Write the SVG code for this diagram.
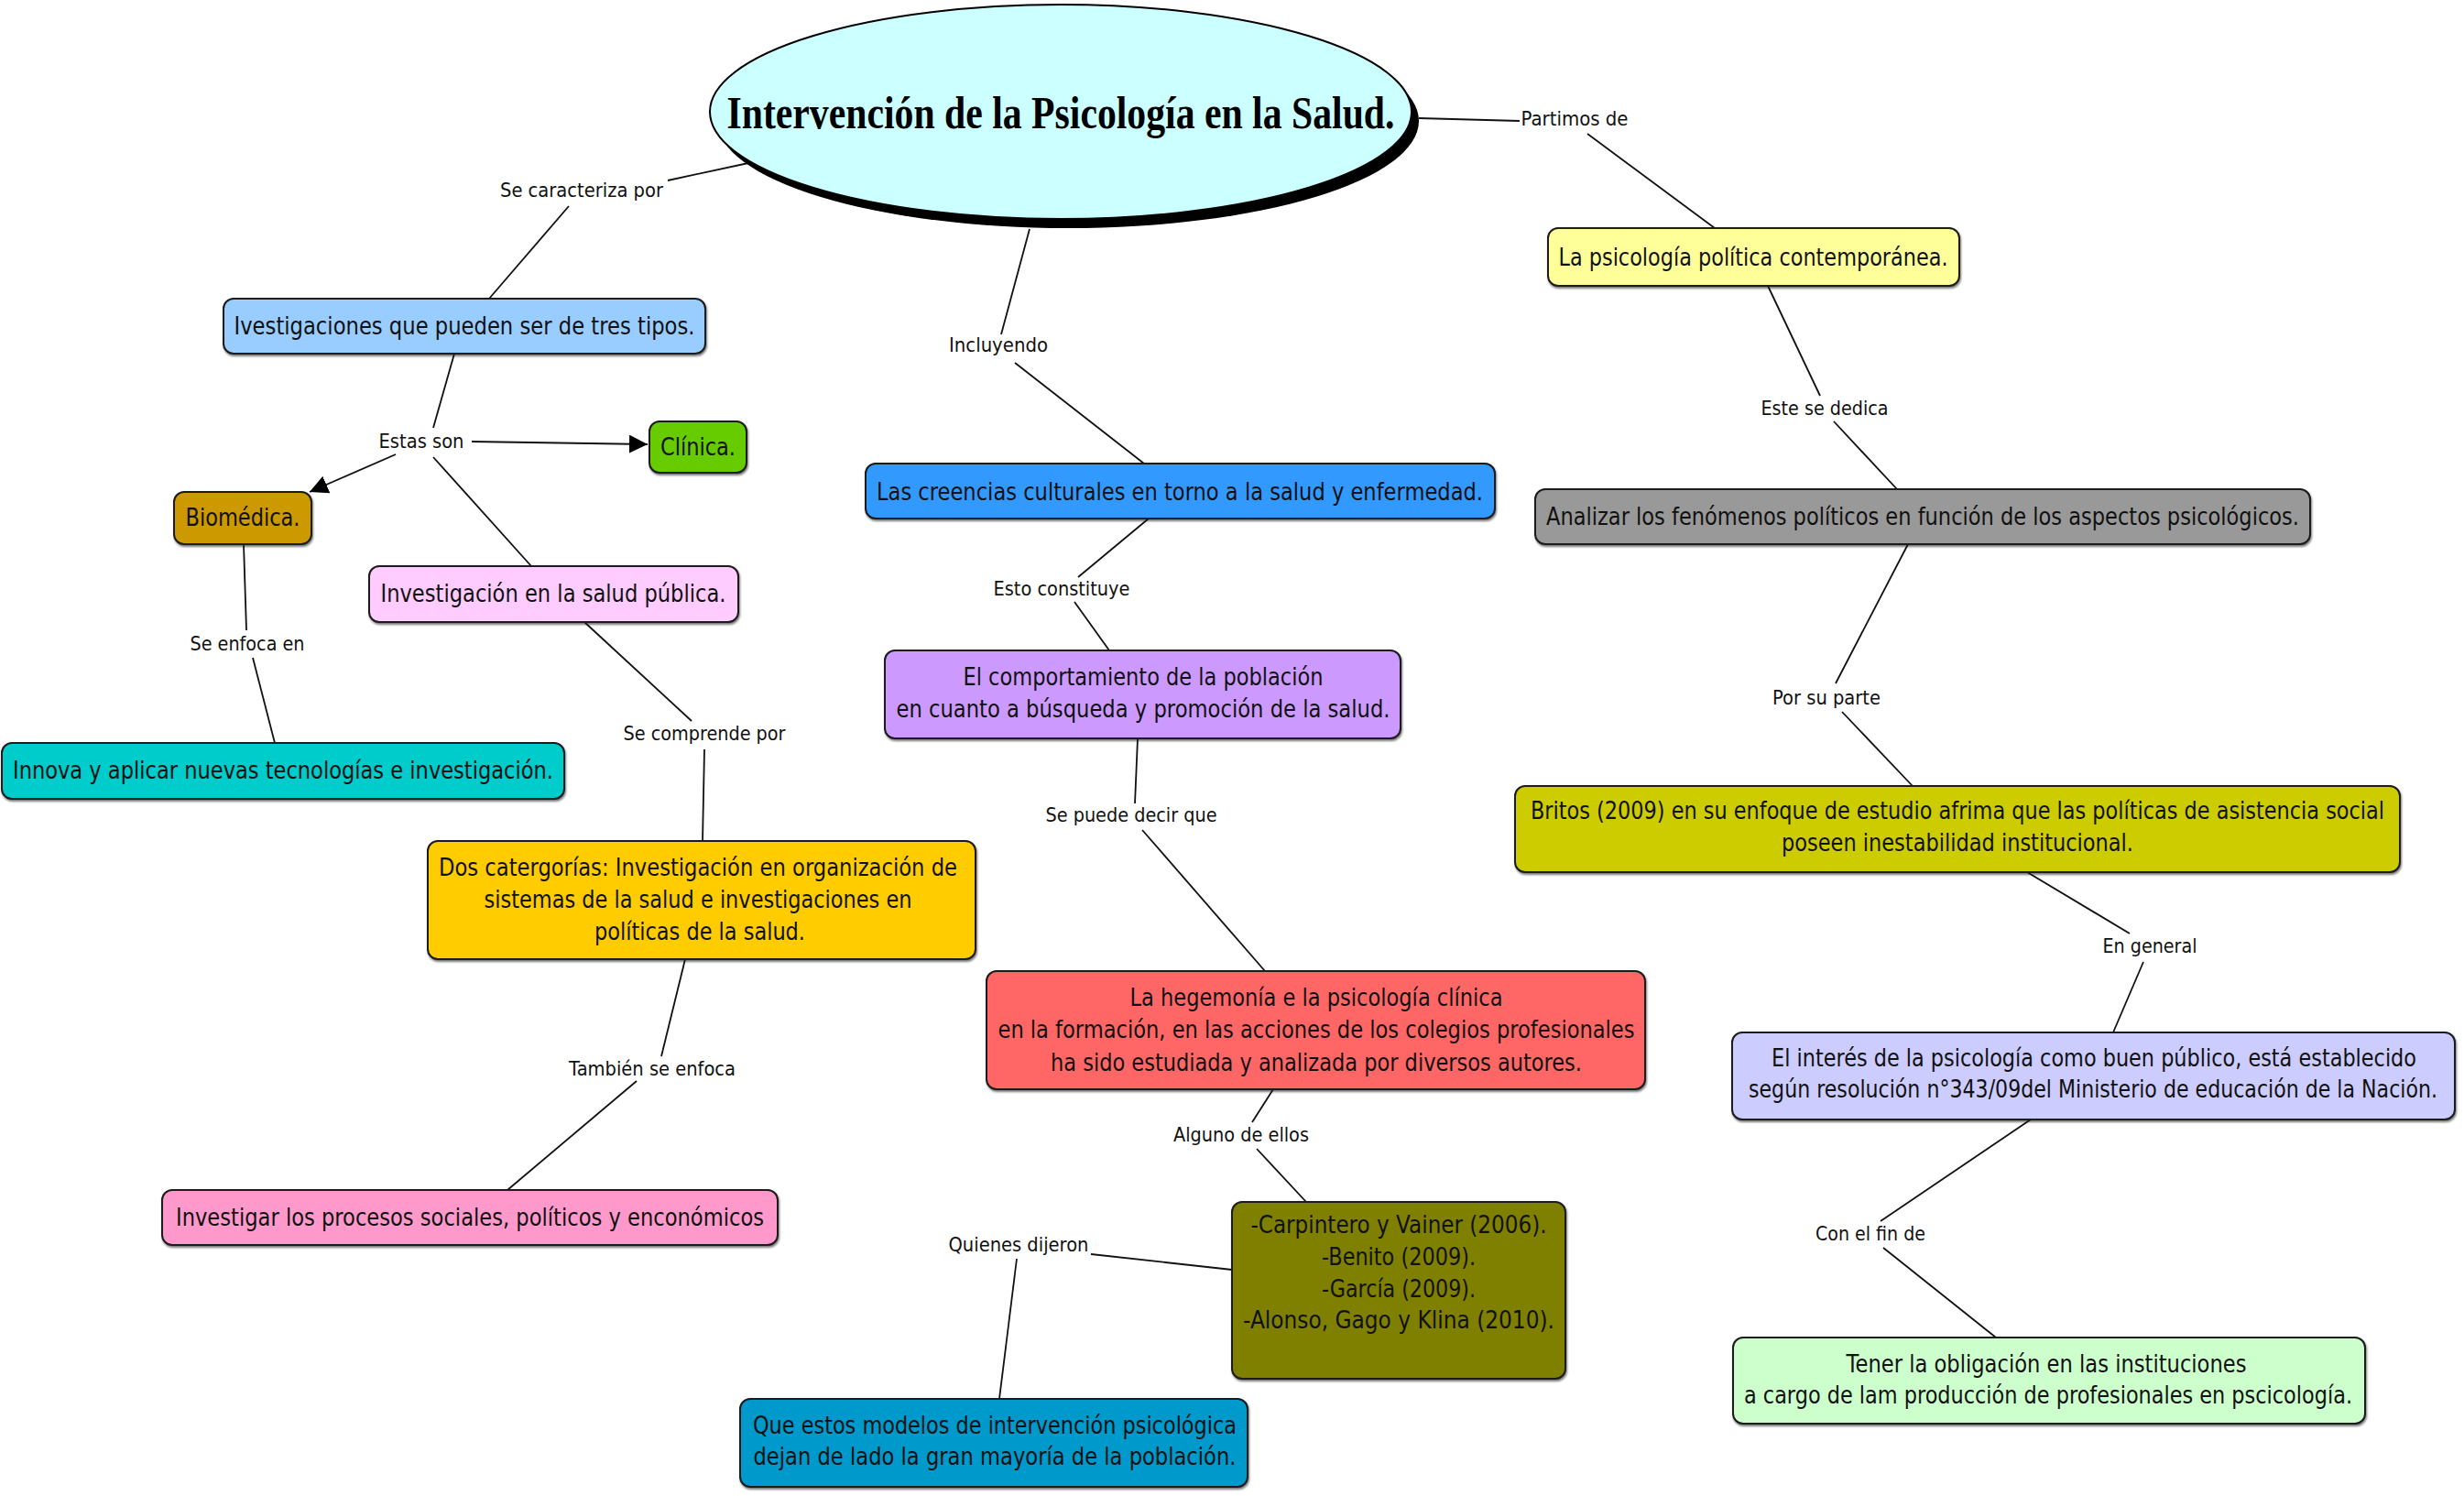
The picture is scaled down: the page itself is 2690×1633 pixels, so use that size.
<svg xmlns="http://www.w3.org/2000/svg" width="2690" height="1633" viewBox="0 0 2690 1633">
<style>
.box{stroke:#1a1a1a;stroke-width:2;filter:url(#sh)}
.t{font-family:"DejaVu Sans","Liberation Sans",sans-serif;font-size:26px;fill:#111;text-anchor:middle}
.l{font-family:"DejaVu Sans","Liberation Sans",sans-serif;font-size:21px;fill:#111;text-anchor:middle}
.c{stroke:#111;stroke-width:1.8;fill:none}
.title{font-family:"Liberation Serif","Times New Roman",serif;font-weight:bold;font-size:50px;fill:#000;text-anchor:middle}
</style>
<defs>
<filter id="sh" x="-5%" y="-10%" width="110%" height="130%">
<feDropShadow dx="1" dy="2" stdDeviation="1" flood-color="#222" flood-opacity="0.6"/>
</filter>
<marker id="arrL" viewBox="0 0 10 10" refX="10" refY="5" markerWidth="20" markerHeight="20" markerUnits="userSpaceOnUse" orient="auto">
<path d="M0,0 L10,5 L0,10 z" fill="#000"/>
</marker>
</defs>
<rect width="2690" height="1633" fill="#fff"/>

<g id="connectors">
<line class="c" x1="817" y1="178" x2="729" y2="197"/>
<line class="c" x1="621" y1="225" x2="534" y2="326"/>
<line class="c" x1="1124" y1="250" x2="1093" y2="365"/>
<line class="c" x1="1108" y1="396" x2="1249" y2="506"/>
<line class="c" x1="1549" y1="129" x2="1659" y2="132"/>
<line class="c" x1="1733" y1="146" x2="1872" y2="249"/>
<line class="c" x1="496" y1="386" x2="473" y2="467"/>
<line class="c" x1="515" y1="482" x2="707" y2="485" marker-end="url(#arrL)"/>
<line class="c" x1="432" y1="496" x2="338" y2="537" marker-end="url(#arrL)"/>
<line class="c" x1="473" y1="499" x2="580" y2="618"/>
<line class="c" x1="266" y1="594" x2="269" y2="688"/>
<line class="c" x1="276" y1="718" x2="300" y2="811"/>
<line class="c" x1="638" y1="679" x2="755" y2="787"/>
<line class="c" x1="769" y1="818" x2="767" y2="918"/>
<line class="c" x1="748" y1="1047" x2="722" y2="1153"/>
<line class="c" x1="695" y1="1180" x2="554" y2="1299"/>
<line class="c" x1="1254" y1="566" x2="1177" y2="630"/>
<line class="c" x1="1173" y1="657" x2="1211" y2="710"/>
<line class="c" x1="1242" y1="806" x2="1239" y2="877"/>
<line class="c" x1="1247" y1="906" x2="1381" y2="1060"/>
<line class="c" x1="1390" y1="1189" x2="1367" y2="1225"/>
<line class="c" x1="1372" y1="1254" x2="1426" y2="1312"/>
<line class="c" x1="1345" y1="1386" x2="1191" y2="1369"/>
<line class="c" x1="1110" y1="1374" x2="1091" y2="1527"/>
<line class="c" x1="1930" y1="312" x2="1987" y2="432"/>
<line class="c" x1="2002" y1="460" x2="2071" y2="534"/>
<line class="c" x1="2083" y1="594" x2="2004" y2="746"/>
<line class="c" x1="2011" y1="777" x2="2088" y2="858"/>
<line class="c" x1="2213" y1="952" x2="2325" y2="1019"/>
<line class="c" x1="2340" y1="1050" x2="2307" y2="1127"/>
<line class="c" x1="2217" y1="1222" x2="2053" y2="1333"/>
<line class="c" x1="2056" y1="1362" x2="2179" y2="1460"/>

<text class="l" x="635" y="215" textLength="178" lengthAdjust="spacingAndGlyphs">Se caracteriza por</text>
<text class="l" x="1090" y="384" textLength="108" lengthAdjust="spacingAndGlyphs">Incluyendo</text>
<text class="l" x="1719" y="137" textLength="117" lengthAdjust="spacingAndGlyphs">Partimos de</text>
<text class="l" x="460" y="489" textLength="93" lengthAdjust="spacingAndGlyphs">Estas son</text>
<text class="l" x="270" y="710" textLength="125" lengthAdjust="spacingAndGlyphs">Se enfoca en</text>
<text class="l" x="769" y="808" textLength="177" lengthAdjust="spacingAndGlyphs">Se comprende por</text>
<text class="l" x="712" y="1174" textLength="182" lengthAdjust="spacingAndGlyphs">También se enfoca</text>
<text class="l" x="1159" y="650" textLength="149" lengthAdjust="spacingAndGlyphs">Esto constituye</text>
<text class="l" x="1235" y="897" textLength="187" lengthAdjust="spacingAndGlyphs">Se puede decir que</text>
<text class="l" x="1355" y="1246" textLength="148" lengthAdjust="spacingAndGlyphs">Alguno de ellos</text>
<text class="l" x="1112" y="1366" textLength="153" lengthAdjust="spacingAndGlyphs">Quienes dijeron</text>
<text class="l" x="1992" y="453" textLength="139" lengthAdjust="spacingAndGlyphs">Este se dedica</text>
<text class="l" x="1994" y="769" textLength="118" lengthAdjust="spacingAndGlyphs">Por su parte</text>
<text class="l" x="2347" y="1040" textLength="103" lengthAdjust="spacingAndGlyphs">En general</text>
<text class="l" x="2042" y="1354" textLength="120" lengthAdjust="spacingAndGlyphs">Con el fin de</text>
</g>

<g id="title">
<ellipse cx="1166" cy="132" rx="383" ry="117" fill="#000"/>
<ellipse cx="1158" cy="122" rx="383" ry="117" fill="#ccffff" stroke="#000" stroke-width="2"/>
<text class="title" x="1158" y="140" textLength="729" lengthAdjust="spacingAndGlyphs">Intervención de la Psicología en la Salud.</text>
</g>

<g id="n-tipos">
<rect class="box" x="244" y="326" width="526" height="60" rx="11" fill="#99ccff"/>
<text class="t" x="507" y="365" textLength="503" lengthAdjust="spacingAndGlyphs">Ivestigaciones que pueden ser de tres tipos.</text>
</g>
<g id="n-clinica">
<rect class="box" x="709" y="460" width="106" height="56" rx="11" fill="#66cc00"/>
<text class="t" x="762" y="497" textLength="82" lengthAdjust="spacingAndGlyphs">Clínica.</text>
</g>
<g id="n-biomedica">
<rect class="box" x="190" y="537" width="150" height="57" rx="11" fill="#cc9900"/>
<text class="t" x="265" y="574" textLength="125" lengthAdjust="spacingAndGlyphs">Biomédica.</text>
</g>
<g id="n-saludpublica">
<rect class="box" x="403" y="618" width="403" height="61" rx="11" fill="#ffccff"/>
<text class="t" x="604" y="657" textLength="377" lengthAdjust="spacingAndGlyphs">Investigación en la salud pública.</text>
</g>
<g id="n-innova">
<rect class="box" x="2" y="811" width="614" height="61" rx="11" fill="#00cccc"/>
<text class="t" x="309" y="850" textLength="590" lengthAdjust="spacingAndGlyphs">Innova y aplicar nuevas tecnologías e investigación.</text>
</g>
<g id="n-categorias">
<rect class="box" x="467" y="918" width="598" height="129" rx="11" fill="#ffcc00"/>
<text class="t" x="762" y="956" textLength="566" lengthAdjust="spacingAndGlyphs">Dos catergorías: Investigación en organización de</text>
<text class="t" x="762" y="991" textLength="467" lengthAdjust="spacingAndGlyphs">sistemas de la salud e investigaciones en</text>
<text class="t" x="764" y="1026" textLength="230" lengthAdjust="spacingAndGlyphs">políticas de la salud.</text>
</g>
<g id="n-procesos">
<rect class="box" x="177" y="1299" width="672" height="60" rx="11" fill="#ff99cc"/>
<text class="t" x="513" y="1338" textLength="642" lengthAdjust="spacingAndGlyphs">Investigar los procesos sociales, políticos y enconómicos</text>
</g>
<g id="n-creencias">
<rect class="box" x="945" y="506" width="687" height="60" rx="11" fill="#3399ff"/>
<text class="t" x="1288" y="546" textLength="662" lengthAdjust="spacingAndGlyphs">Las creencias culturales en torno a la salud y enfermedad.</text>
</g>
<g id="n-comportamiento">
<rect class="box" x="966" y="710" width="563" height="96" rx="11" fill="#cc99ff"/>
<text class="t" x="1248" y="748" textLength="393" lengthAdjust="spacingAndGlyphs">El comportamiento de la población</text>
<text class="t" x="1248" y="783" textLength="539" lengthAdjust="spacingAndGlyphs">en cuanto a búsqueda y promoción de la salud.</text>
</g>
<g id="n-hegemonia">
<rect class="box" x="1077" y="1060" width="719" height="129" rx="11" fill="#ff6666"/>
<text class="t" x="1437" y="1098" textLength="407" lengthAdjust="spacingAndGlyphs">La hegemonía e la psicología clínica</text>
<text class="t" x="1437" y="1133" textLength="695" lengthAdjust="spacingAndGlyphs">en la formación, en las acciones de los colegios profesionales</text>
<text class="t" x="1437" y="1169" textLength="580" lengthAdjust="spacingAndGlyphs">ha sido estudiada y analizada por diversos autores.</text>
</g>
<g id="n-autores">
<rect class="box" x="1345" y="1312" width="364" height="193" rx="11" fill="#808000"/>
<text class="t" x="1527" y="1346" textLength="323" lengthAdjust="spacingAndGlyphs">-Carpintero y Vainer (2006).</text>
<text class="t" x="1527" y="1381" textLength="168" lengthAdjust="spacingAndGlyphs">-Benito (2009).</text>
<text class="t" x="1527" y="1416" textLength="168" lengthAdjust="spacingAndGlyphs">-García (2009).</text>
<text class="t" x="1527" y="1450" textLength="340" lengthAdjust="spacingAndGlyphs">-Alonso, Gago y Klina (2010).</text>
</g>
<g id="n-modelos">
<rect class="box" x="808" y="1527" width="554" height="96" rx="11" fill="#0099cc"/>
<text class="t" x="1086" y="1565" textLength="528" lengthAdjust="spacingAndGlyphs">Que estos modelos de intervención psicológica</text>
<text class="t" x="1086" y="1599" textLength="527" lengthAdjust="spacingAndGlyphs">dejan de lado la gran mayoría de la población.</text>
</g>
<g id="n-politica">
<rect class="box" x="1690" y="249" width="449" height="63" rx="11" fill="#ffff99"/>
<text class="t" x="1914" y="290" textLength="425" lengthAdjust="spacingAndGlyphs">La psicología política contemporánea.</text>
</g>
<g id="n-analizar">
<rect class="box" x="1676" y="534" width="846" height="60" rx="11" fill="#999999"/>
<text class="t" x="2099" y="573" textLength="822" lengthAdjust="spacingAndGlyphs">Analizar los fenómenos políticos en función de los aspectos psicológicos.</text>
</g>
<g id="n-britos">
<rect class="box" x="1654" y="858" width="966" height="94" rx="11" fill="#cccc00"/>
<text class="t" x="2137" y="894" textLength="932" lengthAdjust="spacingAndGlyphs">Britos (2009) en su enfoque de estudio afrima que las políticas de asistencia social</text>
<text class="t" x="2137" y="929" textLength="384" lengthAdjust="spacingAndGlyphs">poseen inestabilidad institucional.</text>
</g>
<g id="n-interes">
<rect class="box" x="1891" y="1127" width="789" height="95" rx="11" fill="#ccccff"/>
<text class="t" x="2286" y="1164" textLength="704" lengthAdjust="spacingAndGlyphs">El interés de la psicología como buen público, está establecido</text>
<text class="t" x="2285" y="1198" textLength="752" lengthAdjust="spacingAndGlyphs">según resolución n°343/09del Ministerio de educación de la Nación.</text>
</g>
<g id="n-obligacion">
<rect class="box" x="1892" y="1460" width="690" height="94" rx="11" fill="#ccffcc"/>
<text class="t" x="2234" y="1498" textLength="437" lengthAdjust="spacingAndGlyphs">Tener la obligación en las instituciones</text>
<text class="t" x="2236" y="1532" textLength="664" lengthAdjust="spacingAndGlyphs">a cargo de lam producción de profesionales en pscicología.</text>
</g>
</svg>
